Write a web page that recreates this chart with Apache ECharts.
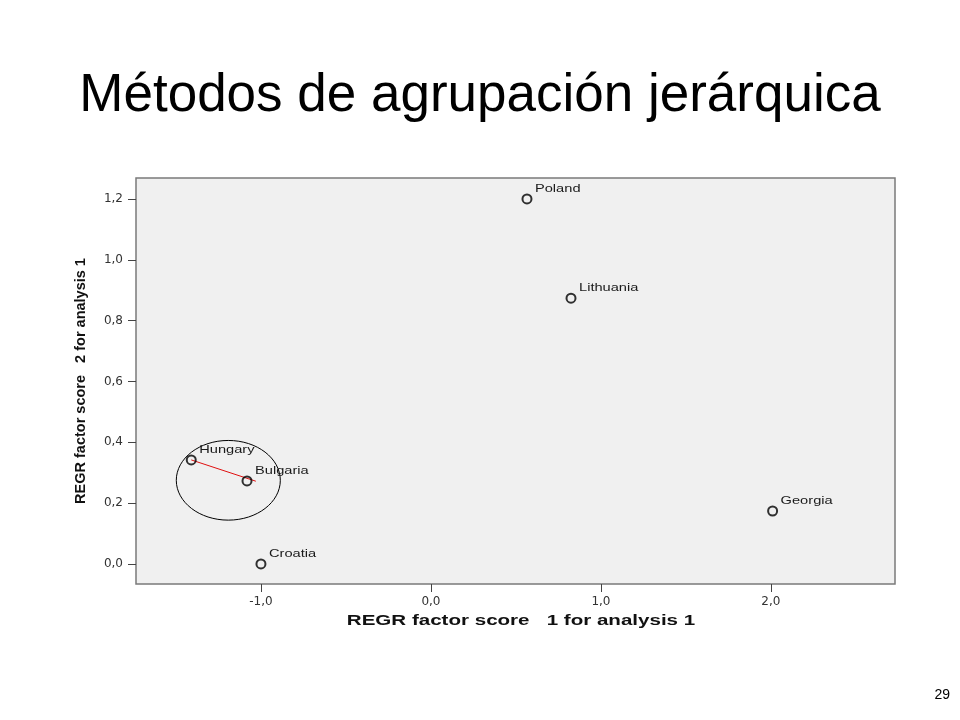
<!DOCTYPE html>
<html><head><meta charset="utf-8">
<script src="https://cdn.jsdelivr.net/npm/echarts@6/dist/echarts.min.js"></script>
<style>html,body{margin:0;padding:0;background:#fff}#c{width:960px;height:720px}</style>
</head><body><div id="c"></div>
<script>
// Data
var countries = ['Poland', 'Lithuania', 'Hungary', 'Bulgaria', 'Croatia', 'Georgia'];
var score1 = [0.565, 0.824, -1.41, -1.082, -1.0, 2.01];
var score2 = [1.2, 0.874, 0.342, 0.273, 0.0, 0.174];
var xTicks = [-1, 0, 1, 2];
var yTicks = [0, 0.2, 0.4, 0.6, 0.8, 1.0, 1.2];
// red link (Hungary -> Bulgaria, slightly extended)
var linkX = [-1.41, -1.03];
var linkY = [0.342, 0.272];
// circled cluster annotation: center and radii in data units
var clusterCenter = [-1.192, 0.275];
var clusterRadius = [0.306, 0.131];

var xName = 'REGR factor score   1 for analysis 1';
var yName = 'REGR factor score   2 for analysis 1';
var titleText = 'Métodos de agrupación jerárquica';
var pageNo = '29';

var FONT = 'Liberation Sans, Arial, sans-serif';
var fmt = function (v) { return v.toFixed(1).replace('.', ','); };
var points = countries.map(function (n, i) { return { name: n, value: [score1[i], score2[i]] }; });

var chart = echarts.init(document.getElementById('c'));
chart.setOption({
  backgroundColor: '#ffffff',
  animation: false,
  title: [{
    text: titleText,
    left: 'center', top: 65,
    textStyle: { fontFamily: FONT, fontSize: 53, fontWeight: 'normal', color: '#000' }
  }, {
    text: pageNo, right: 5, top: 683,
    textStyle: { fontFamily: FONT, fontSize: 14, fontWeight: 'normal', color: '#000' }
  }],
  grid: {
    left: 136, top: 178, right: 65, bottom: 136,
    show: true, backgroundColor: '#f0f0f0', borderColor: '#7a7a7a', borderWidth: 1.5
  },
  graphic: [{
    type: 'text', x: 521, y: 621, scaleX: 1.37, silent: true,
    style: { text: xName, align: 'center', verticalAlign: 'middle', fill: '#111',
      font: 'bold 15px ' + FONT }
  }],
  xAxis: {
    type: 'value', min: -1.735, max: 2.73,
    splitLine: { show: false },
    axisLine: { show: false, onZero: false },
    axisTick: { show: true, length: 8, customValues: xTicks, lineStyle: { color: '#444' } },
    axisLabel: { customValues: xTicks, formatter: fmt, margin: 12, fontSize: 12, color: '#333', fontFamily: 'DejaVu Sans, sans-serif' }
  },
  yAxis: {
    type: 'value', min: -0.066, max: 1.269,
    name: yName,
    nameLocation: 'middle', nameGap: 48, nameRotate: 90,
    nameTextStyle: { fontFamily: FONT, fontSize: 14.5, fontWeight: 'bold', color: '#111' },
    splitLine: { show: false },
    axisLine: { show: false, onZero: false },
    axisTick: { show: true, length: 8, customValues: yTicks, lineStyle: { color: '#444' } },
    axisLabel: { customValues: yTicks, formatter: fmt, margin: 13, fontSize: 12, color: '#333', fontFamily: 'DejaVu Sans, sans-serif' }
  },
  series: [{
    type: 'line',
    data: linkX.map(function (x, i) { return [x, linkY[i]]; }),
    symbol: 'none',
    lineStyle: { color: '#e01010', width: 1 },
    z: 3
  }, {
    type: 'custom',
    data: [clusterCenter.concat(clusterRadius)],
    renderItem: function (params, api) {
      var c = api.coord([api.value(0), api.value(1)]);
      var e = api.coord([api.value(0) + api.value(2), api.value(1) + api.value(3)]);
      return {
        type: 'ellipse',
        shape: { cx: c[0], cy: c[1], rx: Math.abs(e[0] - c[0]), ry: Math.abs(e[1] - c[1]) },
        style: { fill: 'none', stroke: '#000', lineWidth: 1 }
      };
    },
    z: 2
  }, {
    type: 'scatter',
    data: points,
    symbol: 'circle', symbolSize: 9,
    itemStyle: { color: 'rgba(0,0,0,0)', borderColor: '#000', borderWidth: 2 },
    z: 4
  }, {
    type: 'custom',
    data: points,
    renderItem: function (params, api) {
      var p = api.coord([api.value(0), api.value(1)]);
      return {
        type: 'text', x: p[0] + 8, y: p[1] - 10, scaleX: 1.33,
        style: { text: countries[params.dataIndex], align: 'left', verticalAlign: 'middle',
          fill: '#1a1a1a', font: '11px ' + FONT }
      };
    },
    z: 5
  }]
});
</script></body></html>
